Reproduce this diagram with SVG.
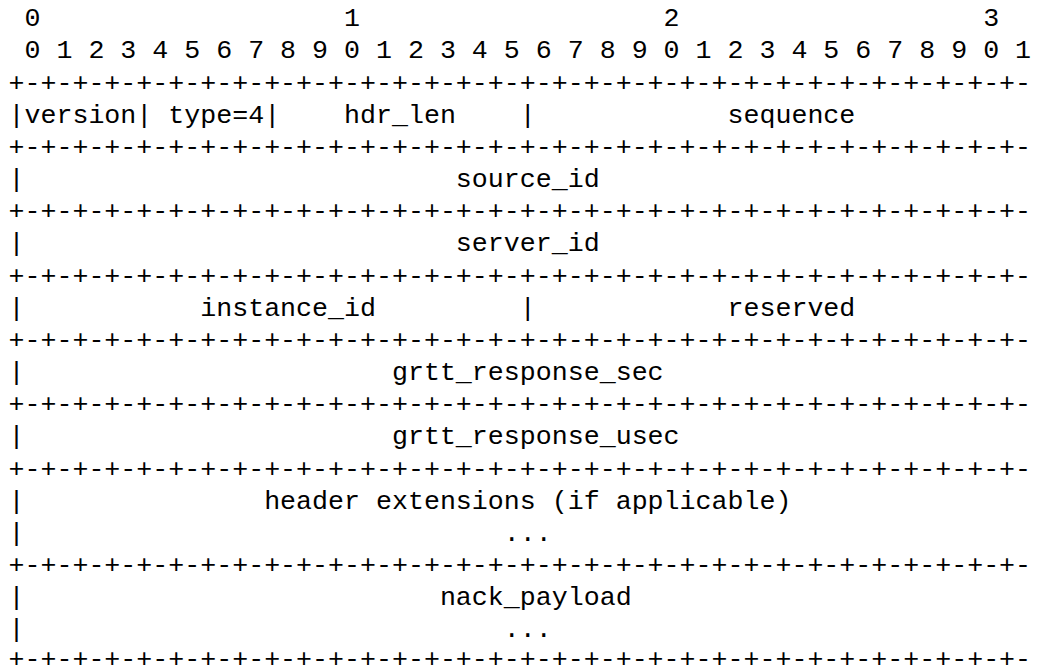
<svg xmlns="http://www.w3.org/2000/svg" width="1037" height="665" viewBox="0 0 1037 665">
<style>
text{font-family:"Liberation Mono","Courier New",monospace;font-size:26.63px;fill:#000;white-space:pre}
</style>
<rect width="1037" height="665" fill="#fff"/>
<g id="ruler">
<text x="8.5" y="26.2" xml:space="preserve"> 0                   1                   2                   3</text>
<text x="8.5" y="58.3" xml:space="preserve"> 0 1 2 3 4 5 6 7 8 9 0 1 2 3 4 5 6 7 8 9 0 1 2 3 4 5 6 7 8 9 0 1</text>
</g>
<g id="borders">
<text x="8.5" y="90.5">+-+-+-+-+-+-+-+-+-+-+-+-+-+-+-+-+-+-+-+-+-+-+-+-+-+-+-+-+-+-+-+-</text>
<text x="8.5" y="154.8">+-+-+-+-+-+-+-+-+-+-+-+-+-+-+-+-+-+-+-+-+-+-+-+-+-+-+-+-+-+-+-+-</text>
<text x="8.5" y="219.2">+-+-+-+-+-+-+-+-+-+-+-+-+-+-+-+-+-+-+-+-+-+-+-+-+-+-+-+-+-+-+-+-</text>
<text x="8.5" y="283.5">+-+-+-+-+-+-+-+-+-+-+-+-+-+-+-+-+-+-+-+-+-+-+-+-+-+-+-+-+-+-+-+-</text>
<text x="8.5" y="347.9">+-+-+-+-+-+-+-+-+-+-+-+-+-+-+-+-+-+-+-+-+-+-+-+-+-+-+-+-+-+-+-+-</text>
<text x="8.5" y="412.2">+-+-+-+-+-+-+-+-+-+-+-+-+-+-+-+-+-+-+-+-+-+-+-+-+-+-+-+-+-+-+-+-</text>
<text x="8.5" y="476.5">+-+-+-+-+-+-+-+-+-+-+-+-+-+-+-+-+-+-+-+-+-+-+-+-+-+-+-+-+-+-+-+-</text>
<text x="8.5" y="573.0">+-+-+-+-+-+-+-+-+-+-+-+-+-+-+-+-+-+-+-+-+-+-+-+-+-+-+-+-+-+-+-+-</text>
<text x="8.5" y="666.5">+-+-+-+-+-+-+-+-+-+-+-+-+-+-+-+-+-+-+-+-+-+-+-+-+-+-+-+-+-+-+-+-</text>
</g>
<g id="row-header">
<text x="8.5" y="122.7" xml:space="preserve">|version| type=4|    hdr_len    |            sequence</text>
</g>
<g id="row-source">
<text x="8.5" y="187.0" xml:space="preserve">|                           source_id</text>
</g>
<g id="row-server">
<text x="8.5" y="251.4" xml:space="preserve">|                           server_id</text>
</g>
<g id="row-instance">
<text x="8.5" y="315.7" xml:space="preserve">|           instance_id         |            reserved</text>
</g>
<g id="row-grtt-sec">
<text x="8.5" y="380.0" xml:space="preserve">|                       grtt_response_sec</text>
</g>
<g id="row-grtt-usec">
<text x="8.5" y="444.4" xml:space="preserve">|                       grtt_response_usec</text>
</g>
<g id="row-ext">
<text x="8.5" y="508.7" xml:space="preserve">|               header extensions (if applicable)</text>
<text x="8.5" y="540.9" xml:space="preserve">|                              ...</text>
</g>
<g id="row-payload">
<text x="8.5" y="605.2" xml:space="preserve">|                          nack_payload</text>
<text x="8.5" y="637.4" xml:space="preserve">|                              ...</text>
</g>
</svg>
